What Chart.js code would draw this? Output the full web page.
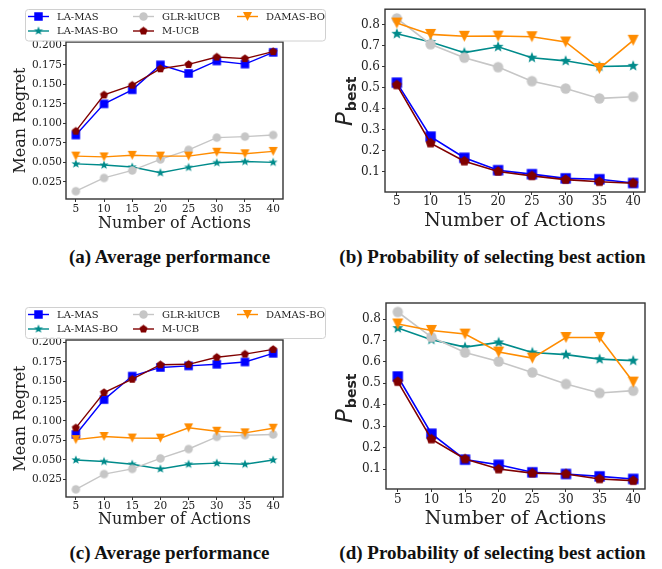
<!DOCTYPE html>
<html><head><meta charset="utf-8">
<script src="https://cdn.jsdelivr.net/npm/chart.js@4.4.0/dist/chart.umd.min.js"></script>
<style>
body{margin:0;background:#fff;width:662px;height:569px;position:relative;overflow:hidden}
canvas{position:absolute}
.cap{position:absolute;font:bold 19px "Liberation Serif",serif;line-height:19px;color:#111;white-space:nowrap;transform:translateX(-50%)}
</style></head><body>
<canvas id="ca"></canvas><canvas id="cb"></canvas><canvas id="cc"></canvas><canvas id="cd"></canvas>
<div class="cap" id="capA"></div><div class="cap" id="capB"></div><div class="cap" id="capC"></div><div class="cap" id="capD"></div>
<script>
// ---------- data ----------
const actions = [5, 10, 15, 20, 25, 30, 35, 40];
const seriesNames = ['LA-MAS', 'LA-MAS-BO', 'GLR-klUCB', 'M-UCB', 'DAMAS-BO'];
const regretTicks = [0.025, 0.05, 0.075, 0.1, 0.125, 0.15, 0.175, 0.2];
const pbestTicks = [0.1, 0.2, 0.3, 0.4, 0.5, 0.6, 0.7, 0.8];

// (a) mean regret
const regretA_LAMAS   = [0.085, 0.125, 0.143, 0.175, 0.164, 0.180, 0.176, 0.191];
const regretA_LAMASBO = [0.048, 0.0465, 0.044, 0.0366, 0.0435, 0.0495, 0.051, 0.050];
const regretA_GLR     = [0.013, 0.030, 0.0396, 0.0538, 0.066, 0.0817, 0.083, 0.085];
const regretA_MUCB    = [0.090, 0.1365, 0.149, 0.170, 0.1756, 0.185, 0.183, 0.192];
const regretA_DAMAS   = [0.058, 0.057, 0.059, 0.058, 0.058, 0.063, 0.061, 0.064];
// (b) P_best
const pbestB_LAMAS   = [0.525, 0.268, 0.167, 0.108, 0.089, 0.069, 0.065, 0.047];
const pbestB_LAMASBO = [0.758, 0.719, 0.668, 0.696, 0.644, 0.629, 0.602, 0.605];
const pbestB_GLR     = [0.831, 0.708, 0.644, 0.599, 0.532, 0.497, 0.450, 0.458];
const pbestB_MUCB    = [0.514, 0.237, 0.151, 0.102, 0.081, 0.063, 0.053, 0.046];
const pbestB_DAMAS   = [0.809, 0.755, 0.746, 0.747, 0.744, 0.719, 0.593, 0.727];
// (c) mean regret
const regretC_LAMAS   = [0.0825, 0.127, 0.157, 0.168, 0.170, 0.172, 0.175, 0.186];
const regretC_LAMASBO = [0.050, 0.048, 0.0446, 0.0386, 0.0446, 0.046, 0.0446, 0.050];
const regretC_GLR     = [0.0126, 0.032, 0.0386, 0.052, 0.064, 0.0795, 0.0816, 0.0825];
const regretC_MUCB    = [0.091, 0.136, 0.153, 0.1715, 0.172, 0.181, 0.185, 0.191];
const regretC_DAMAS   = [0.076, 0.080, 0.078, 0.0778, 0.091, 0.0867, 0.0846, 0.0905];
// (d) P_best
const pbestD_LAMAS   = [0.532, 0.265, 0.144, 0.120, 0.085, 0.077, 0.066, 0.054];
const pbestD_LAMASBO = [0.758, 0.704, 0.669, 0.691, 0.644, 0.634, 0.613, 0.606];
const pbestD_GLR     = [0.833, 0.716, 0.644, 0.602, 0.551, 0.497, 0.455, 0.466];
const pbestD_MUCB    = [0.508, 0.240, 0.147, 0.100, 0.081, 0.077, 0.054, 0.046];
const pbestD_DAMAS   = [0.777, 0.747, 0.730, 0.646, 0.618, 0.714, 0.714, 0.506];

const captions = ['(a) Average performance', '(b) Probability of selecting best action',
                  '(c) Average performance', '(d) Probability of selecting best action'];
const xTitleText = 'Number of Actions';
const regretTitleText = 'Mean Regret';

// ---------- styles ----------
const styles = [
  {color: '#0000ff', shape: 'square',   size: 8.5},
  {color: '#008b8b', shape: 'star',     size: 9.5},
  {color: '#c6c6c6', shape: 'circle',   size: 8.5},
  {color: '#800000', shape: 'pentagon', size: 8.5},
  {color: '#ff8c00', shape: 'tridown',  size: 9}
];

function markerCanvas(shape, d, color) {
  const s = Math.ceil(d) + 2;
  const c = document.createElement('canvas');
  c.width = s; c.height = s;
  const g = c.getContext('2d');
  g.fillStyle = color;
  const cx = s / 2, cy = s / 2, R = d / 2;
  g.beginPath();
  if (shape === 'square') {
    g.rect(cx - R, cy - R, 2 * R, 2 * R);
  } else if (shape === 'circle') {
    g.arc(cx, cy, R, 0, Math.PI * 2);
  } else if (shape === 'tridown') {
    g.moveTo(cx - R, cy - R); g.lineTo(cx + R, cy - R); g.lineTo(cx, cy + R);
  } else if (shape === 'pentagon') {
    for (let i = 0; i < 5; i++) {
      const a = -Math.PI / 2 + i * 2 * Math.PI / 5;
      g.lineTo(cx + R * Math.cos(a), cy + R * Math.sin(a));
    }
  } else if (shape === 'star') {
    for (let i = 0; i < 10; i++) {
      const r = i % 2 ? R * 0.42 : R;
      const a = -Math.PI / 2 + i * Math.PI / 5;
      g.lineTo(cx + r * Math.cos(a), cy + r * Math.sin(a));
    }
  }
  g.closePath(); g.fill();
  return c;
}

const panels = [
  {id: 'ca', cap: 'capA', box: [0, 0, 330, 245], area: [66, 42, 283, 199],
   series: [regretA_LAMAS, regretA_LAMASBO, regretA_GLR, regretA_MUCB, regretA_DAMAS],
   ymin: 0.003, ymax: 0.2043, yticks: regretTicks, dec: 3, tick: 10.5, title: 16, tickPadX: 1, tickPadY: 1,
   xTitleC: 224, yTitle: regretTitleText, yTitleC: 21, ms: 1, lw: 1.4,
   legend: {box: [25, 9, 325, 40.5], rows: [16.5, 31], cols: [28, 133, 237]},
   capC: 169.5, capTop: 247},
  {id: 'cb', cap: 'capB', box: [330, 0, 332, 245], area: [385, 5, 645, 192],
   series: [pbestB_LAMAS, pbestB_LAMASBO, pbestB_GLR, pbestB_MUCB, pbestB_DAMAS],
   ymin: 0.004, ymax: 0.875, yticks: pbestTicks, dec: 1, tick: 12, title: 19, tickPadX: 0, tickPadY: 2,
   xTitleC: 221, pbest: {x: 352, y: 126}, ms: 1.22, lw: 1.6,
   capC: 492.5, capTop: 247},
  {id: 'cc', cap: 'capC', box: [0, 280, 330, 250], area: [66, 340, 283, 497],
   series: [regretC_LAMAS, regretC_LAMASBO, regretC_GLR, regretC_MUCB, regretC_DAMAS],
   ymin: 0.0028, ymax: 0.203, yticks: regretTicks, dec: 3, tick: 10.5, title: 16, tickPadX: 0, tickPadY: 1,
   xTitleC: 520, yTitle: regretTitleText, yTitleC: 21, ms: 1, lw: 1.4,
   legend: {box: [25, 307, 325, 338], rows: [314.5, 329], cols: [28, 133, 237]},
   capC: 169.5, capTop: 543},
  {id: 'cd', cap: 'capD', box: [330, 280, 332, 250], area: [386, 303, 645, 489],
   series: [pbestD_LAMAS, pbestD_LAMASBO, pbestD_GLR, pbestD_MUCB, pbestD_DAMAS],
   ymin: 0.007, ymax: 0.875, yticks: pbestTicks, dec: 1, tick: 12, title: 19, tickPadX: 1, tickPadY: 2,
   xTitleC: 519, pbest: {x: 352, y: 423}, ms: 1.22, lw: 1.6,
   capC: 492.5, capTop: 543}
];

const TXT = '#222222';
const FRAME = '#333333';

panels.forEach((p, pi) => {
  const [bx, by, bw, bh] = p.box;
  const [L, T, R, B] = p.area;
  const cv = document.getElementById(p.id);
  cv.width = bw; cv.height = bh;
  cv.style.left = bx + 'px'; cv.style.top = by + 'px';
  cv.style.width = bw + 'px'; cv.style.height = bh + 'px';

  const markers = styles.map(s => markerCanvas(s.shape, s.size * p.ms, s.color));
  const datasets = p.series.map((vals, i) => ({
    label: seriesNames[i],
    data: actions.map((a, k) => ({x: a, y: vals[k]})),
    borderColor: styles[i].color,
    backgroundColor: styles[i].color,
    borderWidth: p.lw,
    pointStyle: markers[i],
    pointRadius: 5,
    pointHoverRadius: 5,
    tension: 0,
    order: 10 - i
  }));

  const titleLH = p.title * 1.2;
  const tickLen = 3;

  const framePlugin = {
    id: 'frame' + pi,
    afterDatasetsDraw(chart) {
      const a = chart.chartArea, ctx = chart.ctx;
      ctx.save();
      ctx.strokeStyle = FRAME; ctx.lineWidth = 1.4;
      ctx.strokeRect(a.left, a.top, a.right - a.left, a.bottom - a.top);
      ctx.restore();
    }
  };
  const extraPlugin = {
    id: 'extra' + pi,
    afterDraw(chart) {
      const ctx = chart.ctx;
      if (p.legend) {
        const lg = p.legend;
        const [x0, y0, x1, y1] = [lg.box[0] - bx, lg.box[1] - by, lg.box[2] - bx, lg.box[3] - by];
        ctx.save();
        ctx.beginPath();
        ctx.roundRect(x0 + 0.5, y0 + 0.5, x1 - x0, y1 - y0, 3);
        ctx.fillStyle = 'rgba(255,255,255,0.85)'; ctx.fill();
        ctx.strokeStyle = '#d0d0d0'; ctx.lineWidth = 1; ctx.stroke();
        seriesNames.forEach((name, i) => {
          const col = Math.floor(i / 2), row = i % 2;
          const lx = lg.cols[col] - bx, ly = lg.rows[row] - by;
          ctx.strokeStyle = styles[i].color; ctx.lineWidth = p.lw;
          ctx.beginPath(); ctx.moveTo(lx, ly); ctx.lineTo(lx + 21, ly); ctx.stroke();
          const m = markers[i];
          ctx.drawImage(m, lx + 10.5 - m.width / 2, ly - m.height / 2);
          ctx.fillStyle = TXT; ctx.font = '10px "DejaVu Serif"'; ctx.textBaseline = 'middle';
          ctx.fillText(name, lx + 29, ly + 0.5);
        });
        ctx.restore();
      }
      if (p.pbest) {
        ctx.save();
        ctx.translate(p.pbest.x - bx, p.pbest.y - by);
        ctx.rotate(-Math.PI / 2);
        ctx.fillStyle = TXT;
        ctx.textBaseline = 'alphabetic';
        ctx.font = 'italic 23px "DejaVu Sans"';
        ctx.fillText('P', 0, 0);
        const w = ctx.measureText('P').width;
        ctx.font = 'bold 14px "DejaVu Sans"';
        ctx.fillText('best', w + 1, 4);
        ctx.restore();
      }
    }
  };

  new Chart(cv, {
    type: 'line',
    data: {datasets},
    options: {
      responsive: false, animation: false, devicePixelRatio: 1,
      layout: {padding: {left: 0, top: T - by, right: (bx + bw) - R, bottom: 0}},
      plugins: {legend: {display: false}, tooltip: {enabled: false}},
      scales: {
        x: {
          type: 'linear', min: 3.25, max: 41.75,
          afterBuildTicks: s => { s.ticks = actions.map(v => ({value: v})); },
          afterFit: s => { s.height = (by + bh) - B; },
          grid: {display: true, drawOnChartArea: false, drawTicks: true, tickLength: tickLen, color: FRAME, lineWidth: 1},
          border: {display: false},
          ticks: {color: TXT, font: {family: 'DejaVu Serif', size: p.tick}, padding: p.tickPadX, maxRotation: 0, autoSkip: false},
          title: {display: true, text: xTitleText, color: TXT, font: {family: 'DejaVu Serif', size: p.title},
                  padding: {top: 0, bottom: (by + bh) - p.xTitleC - titleLH / 2}}
        },
        y: {
          type: 'linear', min: p.ymin, max: p.ymax,
          afterBuildTicks: s => { s.ticks = p.yticks.map(v => ({value: v})); },
          afterFit: s => { s.width = L - bx; },
          grid: {display: true, drawOnChartArea: false, drawTicks: true, tickLength: tickLen, color: FRAME, lineWidth: 1},
          border: {display: false},
          ticks: {color: TXT, font: {family: 'DejaVu Serif', size: p.tick}, padding: p.tickPadY,
                  callback: v => Number(v).toFixed(p.dec), autoSkip: false},
          title: p.yTitle ? {display: true, text: p.yTitle, color: TXT, font: {family: 'DejaVu Serif', size: p.title},
                  padding: {top: p.yTitleC - titleLH / 2, bottom: 0}} : {display: false}
        }
      }
    },
    plugins: [framePlugin, extraPlugin]
  });

  const capEl = document.getElementById(p.cap);
  capEl.textContent = captions[pi];
  capEl.style.left = p.capC + 'px';
  capEl.style.top = p.capTop + 'px';
});
</script>
</body></html>
